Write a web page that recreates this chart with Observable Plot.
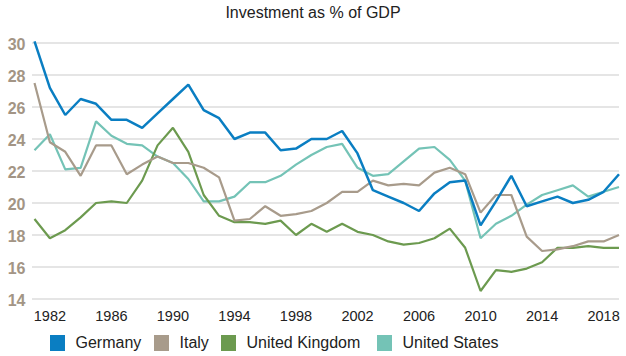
<!DOCTYPE html>
<html><head><meta charset="utf-8">
<script src="https://cdn.jsdelivr.net/npm/d3@7"></script>
<script src="https://cdn.jsdelivr.net/npm/@observablehq/plot@0.6"></script>
<style>
body{margin:0;background:#fff;font-family:"Liberation Sans",Arial,Helvetica,sans-serif;width:626px;height:356px;overflow:hidden;}
#title{height:30px;box-sizing:border-box;padding-top:3px;text-align:center;font-size:16px;line-height:20px;color:#222;}
#chart svg{display:block;}
#legend{position:relative;height:28px;}
.item{position:absolute;top:6px;display:flex;align-items:center;font-size:16px;color:#222;}
.sw{width:15px;height:16px;margin-right:10.5px;}
</style>
</head><body>
<div id="title">Investment as % of GDP</div>
<div id="chart"></div>
<div id="legend"></div>
<script>
const years = [1981,1982,1983,1984,1985,1986,1987,1988,1989,1990,
  1991,1992,1993,1994,1995,1996,1997,1998,1999,2000,
  2001,2002,2003,2004,2005,2006,2007,2008,2009,2010,
  2011,2012,2013,2014,2015,2016,2017,2018,2019];
const germany = [30.1,27.2,25.5,26.5,26.2,25.2,25.2,24.7,25.6,26.5,
  27.4,25.8,25.3,24.0,24.4,24.4,23.3,23.4,24.0,24.0,
  24.5,23.1,20.8,20.4,20.0,19.5,20.6,21.3,21.4,18.6,
  20.1,21.7,19.8,20.1,20.4,20.0,20.2,20.7,21.8];
const italy = [27.5,23.8,23.2,21.7,23.6,23.6,21.8,22.4,22.9,22.5,
  22.5,22.2,21.6,18.9,19.0,19.8,19.2,19.3,19.5,20.0,
  20.7,20.7,21.4,21.1,21.2,21.1,21.9,22.2,21.8,19.4,
  20.5,20.5,17.9,17.0,17.1,17.3,17.6,17.6,18.0];
const uk = [19.0,17.8,18.3,19.1,20.0,20.1,20.0,21.4,23.6,24.7,
  23.2,20.5,19.2,18.8,18.8,18.7,18.9,18.0,18.7,18.2,
  18.7,18.2,18.0,17.6,17.4,17.5,17.8,18.4,17.2,14.5,
  15.8,15.7,15.9,16.3,17.2,17.2,17.3,17.2,17.2];
const us = [23.3,24.3,22.1,22.2,25.1,24.2,23.7,23.6,22.9,22.5,
  21.5,20.1,20.1,20.4,21.3,21.3,21.7,22.4,23.0,23.5,
  23.7,22.2,21.7,21.8,22.6,23.4,23.5,22.7,21.4,17.8,
  18.7,19.2,19.9,20.5,20.8,21.1,20.4,20.7,21.0];
const countries = ["Germany","Italy","United Kingdom","United States"];
const colors = ["#0a7ec2","#a89b8b","#6c9a4f","#74c3b6"];
const xTicks = [1982,1986,1990,1994,1998,2002,2006,2010,2014,2018];
const yTicks = [14,16,18,20,22,24,26,28,30];

const seriesValues = [germany, italy, uk, us];
const rows = [];
seriesValues.forEach((vals, k) => vals.forEach((v, i) => rows.push({year: years[i], value: v, country: countries[k]})));

const lineFor = (name, w) => Plot.line(rows.filter(d => d.country === name), {
  x: "year", y: "value", stroke: "country", strokeWidth: w, strokeLinejoin: "miter", strokeLinecap: "butt"
});

const chart = Plot.plot({
  width: 626, height: 298,
  marginTop: 12.5, marginBottom: 29.5, marginLeft: 32, marginRight: 7,
  style: {fontFamily: '"Liberation Sans",Arial,sans-serif', background: "#fff"},
  x: {domain: [1981, 2019], insetLeft: 2, insetRight: 0.5, label: null},
  y: {domain: [14, 30], label: null},
  color: {domain: countries, range: colors},
  marks: [
    Plot.ruleY(yTicks, {stroke: "#dcdcdc", strokeWidth: 1.4}),
    Plot.axisY(yTicks, {tickSize: 0, tickPadding: 7, fontSize: 16, fontWeight: "bold", color: "#a39585", dy: 2, label: null}),
    Plot.axisX(xTicks, {tickSize: 0, tickPadding: 12, fontSize: 14.5, color: "#222", tickFormat: d => String(d), label: null}),
    lineFor("United States", 2.2),
    lineFor("United Kingdom", 2.2),
    lineFor("Italy", 2.2),
    lineFor("Germany", 2.5)
  ]
});
document.getElementById("chart").appendChild(chart);

const lefts = [50, 154, 221, 377];
const legend = document.getElementById("legend");
countries.forEach((c, i) => {
  const it = document.createElement("div");
  it.className = "item";
  it.style.left = lefts[i] + "px";
  const sw = document.createElement("span");
  sw.className = "sw";
  sw.style.background = colors[i];
  const tx = document.createElement("span");
  tx.textContent = c;
  it.appendChild(sw); it.appendChild(tx);
  legend.appendChild(it);
});
</script>
</body></html>
